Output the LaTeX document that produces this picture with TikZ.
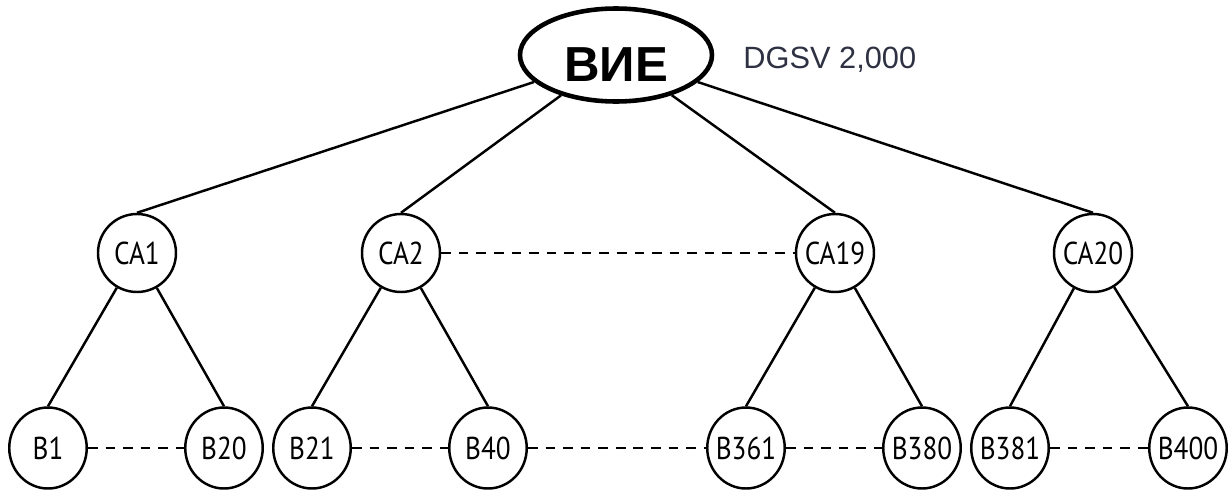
\documentclass[tikz,border=0pt]{standalone}
\usepackage{fontspec}
\setmainfont[FakeStretch=0.86]{PT Sans}
\newfontfamily\arialfont{Liberation Sans}
\usetikzlibrary{shapes.geometric}
\usetikzlibrary{positioning}
\definecolor{notegray}{HTML}{2E3142}
\tikzstyle{rootnode} = [ellipse, minimum width=3.84cm, minimum height=1.86cm, inner sep=0pt,
text height=30pt, text depth=0pt, draw=black, line width=2.6pt,
font=\arialfont\bfseries\fontsize{28}{30}\selectfont]
\tikzstyle{canode} = [circle, minimum size=1.56cm, inner xsep=-6pt, inner ysep=0pt,
draw=black, line width=1.4pt, font=\fontsize{18}{20}\selectfont]
\tikzstyle{bnode} = [ellipse, minimum width=1.55cm, minimum height=1.62cm, inner xsep=-6pt,
inner ysep=0pt, draw=black, line width=1.4pt, font=\fontsize{18}{20}\selectfont]
\tikzstyle{note} = [font=\arialfont\fontsize{17.5}{20}\selectfont, text=notegray]
\tikzstyle{link} = [line width=1.4pt]
\tikzstyle{gap} = [line width=1.5pt, dash pattern=on 5.5pt off 4.5pt]

\begin{document}
\begin{tikzpicture} [on grid]
    \useasboundingbox (-12.32,1.1) rectangle (12.32,-8.68);
    \node (root) [rootnode] {ВИЕ};
    \node (note) [note, right=0.46cm of root.east, anchor=west, yshift=-0.1cm] {DGSV 2,000};
    \node (ca1) [canode, below left=3.96cm and 9.58cm of root] {CA1};
    \node (ca2) [canode, right=5.28cm of ca1] {CA2};
    \node (ca19) [canode, right=8.68cm of ca2] {CA19};
    \node (ca20) [canode, right=5.16cm of ca19] {CA20};
    \node (b1) [bnode, below left=3.9cm and 1.78cm of ca1] {B1};
    \node (b20) [bnode, right=3.52cm of b1] {B20};
    \node (b21) [bnode, right=1.76cm of b20] {B21};
    \node (b40) [bnode, right=3.52cm of b21] {B40};
    \node (b361) [bnode, right=5.16cm of b40] {B361};
    \node (b380) [bnode, right=3.52cm of b361] {B380};
    \node (b381) [bnode, right=1.76cm of b380] {B381};
    \node (b400) [bnode, right=3.56cm of b381] {B400};

    \draw[link] (root) -- (ca1.north);
    \draw[link] (root) -- (ca2.north);
    \draw[link] (root) -- (ca19.north);
    \draw[link] (root) -- (ca20.north);
    \draw[link] (ca1) -- (b1.north);
    \draw[link] (ca1) -- (b20.north);
    \draw[link] (ca2) -- (b21.north);
    \draw[link] (ca2) -- (b40.north);
    \draw[link] (ca19) -- (b361.north);
    \draw[link] (ca19) -- (b380.north);
    \draw[link] (ca20) -- (b381.north);
    \draw[link] (ca20) -- (b400.north);
    \draw[gap] (ca2) -- (ca19);
    \draw[gap] (b1) -- (b20);
    \draw[gap] (b21) -- (b40);
    \draw[gap] (b40) -- (b361);
    \draw[gap] (b361) -- (b380);
    \draw[gap] (b381) -- (b400);
\end{tikzpicture}
\end{document}
